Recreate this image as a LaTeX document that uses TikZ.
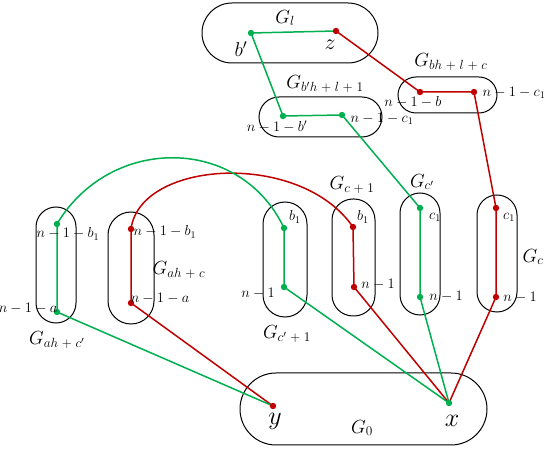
\RequirePackage{fix-cm}
\documentclass[tikz,border=0pt]{standalone}
\definecolor{pg}{RGB}{0,176,80}
\definecolor{pr}{RGB}{192,0,0}
\newcommand{\spl}{\mskip5mu{+}\mskip5mu}
\begin{document}
\begin{tikzpicture}[x=1pt,y=-1pt,
  box/.style={draw=black, line width=1pt},
  gline/.style={draw=pg, line width=1.5pt},
  rline/.style={draw=pr, line width=1.5pt},
  gdot/.style={fill=pg},
  rdot/.style={fill=pr},
  glab/.style={font=\fontsize{19}{21}\selectfont, inner sep=0pt},
  blab/.style={font=\fontsize{26}{28}\selectfont, inner sep=0pt},
  slab/.style={font=\fontsize{14.5}{16}\selectfont, inner sep=0pt},
]
\useasboundingbox (0,0) rectangle (550,449);

% boxes
\draw[box, rounded corners=30pt] (202,3) rectangle (378,63);
\draw[box, rounded corners=20pt] (259,97) rectangle (382,137);
\draw[box, rounded corners=18pt] (398,77) rectangle (497,113);
\draw[box, rounded corners=20pt] (36,207) rectangle (76,323);
\draw[box, rounded corners=23pt] (108,212) rectangle (154,324);
\draw[box, rounded corners=22pt] (263,202) rectangle (307,317);
\draw[box, rounded corners=21pt] (332,199) rectangle (375,316);
\draw[box, rounded corners=20pt] (400,193) rectangle (440,315);
\draw[box, rounded corners=20pt] (477,195) rectangle (517,312);
\draw[box, rounded corners=36pt] (240,373) rectangle (487,445);

% vertices
\coordinate (bp) at (251,33);
\coordinate (z) at (336,31);
\coordinate (gb1) at (283,116);
\coordinate (gb2) at (342,115);
\coordinate (rb1) at (420,92);
\coordinate (rb2) at (474,92);
\coordinate (c1) at (496,208);
\coordinate (c2) at (496,297);
\coordinate (cp1) at (420,208);
\coordinate (cp2) at (420,297);
\coordinate (x) at (449,403);
\coordinate (y) at (273,406);
\coordinate (cq1) at (284,228);
\coordinate (cq2) at (284,287);
\coordinate (cc1) at (353,227);
\coordinate (cc2) at (354,287);
\coordinate (a1) at (57,224);
\coordinate (a2) at (57,312);
\coordinate (e1) at (131,229);
\coordinate (e2) at (131,303);

% red path
\draw[rline] (y) -- (e2) -- (e1) .. controls (140,160) and (300,150) .. (cc1) -- (cc2) -- (x);
\draw[rline] (x) -- (c2) -- (c1) -- (rb2) -- (rb1) -- (z);
% green path
\draw[gline] (y) -- (a2) -- (a1) .. controls (110,135) and (240,135) .. (cq1) -- (cq2) -- (x);
\draw[gline] (x) -- (cp2) -- (cp1) -- (gb2) -- (gb1) -- (bp) -- (z);

% dots
\foreach \p in {bp,gb1,gb2,cp1,cp2,x,cq1,cq2,a1,a2}
  \fill[gdot] (\p) circle (3.2pt);
\foreach \p in {z,rb1,rb2,c1,c2,y,cc1,cc2,e1,e2}
  \fill[rdot] (\p) circle (3.2pt);

% labels
\node[glab] (lGl) at (285,18) {$G_l$};
\node[glab, font=\fontsize{20}{22}\selectfont] (lbp) at (241,49) {$b'$};
\node[glab, font=\fontsize{22}{24}\selectfont] (lz) at (330,45) {$z$};
\node[glab] (lGb) at (325,84) {$G_{b'h\spl l\spl 1}$};
\node[slab] (lnb1) at (277,127) {$n-1-b'$};
\node[slab] (lnc1) at (382,119) {$n-1-c_1$};
\node[glab] (lGbh) at (451,62) {$G_{bh\spl l\spl c}$};
\node[slab] (lnb) at (413,102) {$n-1-b$};
\node[slab] (lnc2) at (514,93) {$n-1-c_1$};

\node[slab] (la1) at (68,234) {$n-1-b_1$};
\node[slab] (la2) at (28,308) {$n-1-a$};
\node[glab] (lGa1) at (57,340) {$G_{ah\spl c'}$};
\node[slab] (le1) at (165,232) {$n-1-b_1$};
\node[slab] (le2) at (160,298) {$n-1-a$};
\node[glab] (lGa2) at (179,270) {$G_{ah\spl c}$};

\node[slab] (lq1) at (295,217) {$b_1$};
\node[slab] (lq2) at (258,293) {$n-1$};
\node[glab] (lGq) at (287,334) {$G_{c'\spl 1}$};
\node[slab] (lcc1) at (363,217) {$b_1$};
\node[slab] (lcc2) at (378,284) {$n-1$};
\node[glab] (lGcc) at (352,185) {$G_{c\spl 1}$};
\node[slab] (lcp1) at (435,217) {$c_1$};
\node[slab] (lcp2) at (446,296) {$n-1$};
\node[glab] (lGcp) at (422,182) {$G_{c'}$};
\node[slab] (lc1) at (509,217) {$c_1$};
\node[slab] (lc2) at (520,297) {$n-1$};
\node[glab] (lGc) at (533,257) {$G_c$};

\node[blab] (ly) at (275,421) {$y$};
\node[glab] (lG0) at (362,428) {$G_0$};
\node[blab] (lx) at (452,421) {$x$};
\end{tikzpicture}
\end{document}
